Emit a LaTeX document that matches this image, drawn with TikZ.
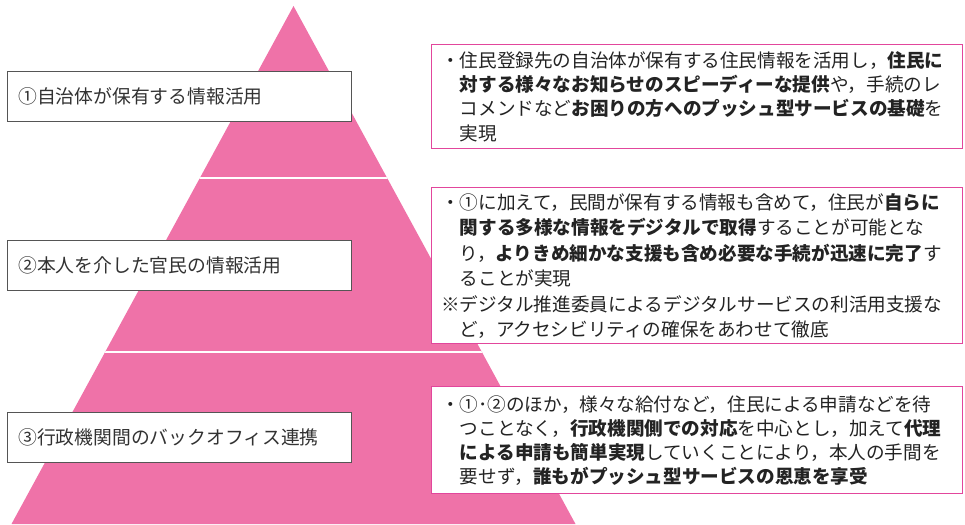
\documentclass[tikz,border=0pt]{standalone}
\usepackage{fontspec}
\setmainfont{Noto Sans CJK JP}
\definecolor{pyr}{RGB}{239,114,168}
\definecolor{pinkline}{RGB}{226,70,156}
\definecolor{lbord}{RGB}{85,85,85}
\definecolor{txt}{RGB}{35,35,35}
\definecolor{ltxt}{RGB}{50,50,50}
\begin{document}
\begin{tikzpicture}[x=1pt,y=-1pt,
  lbox/.style={draw=lbord, line width=1.3pt, fill=white, inner sep=0pt, anchor=north west, minimum width=344pt, minimum height=50pt},
  rbox/.style={draw=pinkline, line width=1.1pt, fill=white, inner sep=0pt, anchor=north west, minimum width=531pt},
  ltext/.style={anchor=base west, inner sep=0pt, text=ltxt, font=\fontsize{18.8pt}{22pt}\selectfont},
  rtext/.style={anchor=base west, inner sep=0pt, text=txt, font=\fontsize{18.6pt}{22pt}\selectfont},
  sep/.style={draw=white, line width=2pt}]
\useasboundingbox (0,0) rectangle (965,524);
% pyramid
\fill[pyr] (293.5,6) -- (575.5,524) -- (11.5,524) -- cycle;
\begin{scope}
  \clip (293.5,6) -- (575.5,524) -- (11.5,524) -- cycle;
  \draw[sep] (0,178) -- (965,178);
  \draw[sep] (0,352) -- (965,352);
\end{scope}
% left boxes
\node[lbox] (L1) at (7,71) {};
\node[lbox] (L2) at (7,240) {};
\node[lbox] (L3) at (7,412) {};
\node[ltext] (L1t) at (18,103) {①自治体が保有する情報活用};
\node[ltext] (L2t) at (18,272) {②本人を介した官民の情報活用};
\node[ltext] (L3t) at (18,444) {③行政機関間のバックオフィス連携};
% right boxes
\node[rbox, minimum height=104pt] (R1) at (431,44) {};
\node[rbox, minimum height=156pt] (R2) at (431,187) {};
\node[rbox, minimum height=107pt] (R3) at (431,386) {};
% box 1 text
\node[rtext] (R1a) at (441,68) {・住民登録先の自治体が保有する住民情報を活用し，\textbf{住民に}};
\node[rtext] (R1b) at (459.6,92) {\textbf{対する様々なお知らせのスピーディーな提供}や，手続のレ};
\node[rtext] (R1c) at (459.6,116) {コメンドなど\textbf{お困りの方へのプッシュ型サービスの基礎}を};
\node[rtext] (R1d) at (459.6,140) {実現};
% box 2 text
\node[rtext] (R2a) at (441,209) {・①に加えて，民間が保有する情報も含めて，住民が\textbf{自らに}};
\node[rtext] (R2b) at (459.6,234.5) {\textbf{関する多様な情報をデジタルで取得}することが可能とな};
\node[rtext] (R2c) at (459.6,260) {り，\textbf{よりきめ細かな支援も含め必要な手続が迅速に完了}す};
\node[rtext] (R2d) at (459.6,285.5) {ることが実現};
\node[rtext] (R2e) at (441,311) {※デジタル推進委員によるデジタルサービスの利活用支援な};
\node[rtext] (R2f) at (459.6,336.5) {ど，アクセシビリティの確保をあわせて徹底};
% box 3 text
\node[rtext] (R3a) at (441,411) {・①･②のほか，様々な給付など，住民による申請などを待};
\node[rtext] (R3b) at (459.6,435) {つことなく，\textbf{行政機関側での対応}を中心とし，加えて\textbf{代理}};
\node[rtext] (R3c) at (459.6,459) {\textbf{による申請も簡単実現}していくことにより，本人の手間を};
\node[rtext] (R3d) at (459.6,483) {要せず，\textbf{誰もがプッシュ型サービスの恩恵を享受}};
\end{tikzpicture}
\end{document}
